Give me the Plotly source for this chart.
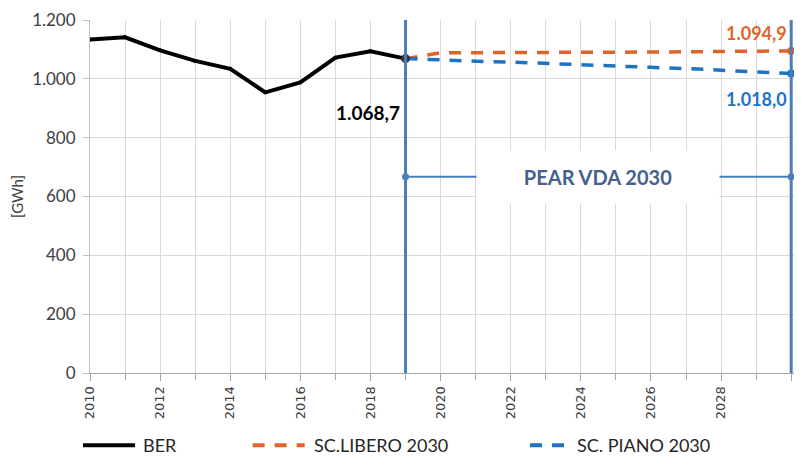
import plotly.graph_objects as go

# ---- data
ber_years = [2010, 2011, 2012, 2013, 2014, 2015, 2016, 2017, 2018, 2019]
ber_values = [1134, 1141, 1097, 1061, 1034, 954, 988, 1072, 1094, 1068.7]

sc_years = [2019, 2020, 2021, 2022, 2023, 2024, 2025, 2026, 2027, 2028, 2029, 2030]
libero_values = [1068.7, 1089, 1089, 1089, 1089, 1090, 1090, 1091, 1092, 1093, 1094, 1094.9]
piano_values = [1068.7, 1063, 1060, 1057, 1052, 1047, 1043, 1039, 1035, 1030, 1025, 1018.0]

series_names = ['BER', 'SC.LIBERO 2030', 'SC. PIANO 2030']

pear_start = 2019
pear_end = 2030
pear_level = 667

x_ticks = list(range(2010, 2031, 2))
y_ticks = [0, 200, 400, 600, 800, 1000, 1200]

black = 'black'
orange = '#e0642a'
blue = '#1f73c1'
frame_blue = '#4a7ebb'
label_blue = '#44618f'
grid = '#d9d9d9'
font_main = 'Lato'

fig = go.Figure()

# period bracket line (under the label box)
fig.add_trace(go.Scatter(
    x=[pear_start, pear_end], y=[pear_level, pear_level],
    mode='lines+markers', line=dict(color=frame_blue, width=2),
    marker=dict(size=7, color=frame_blue), showlegend=False, hoverinfo='skip',
    cliponaxis=False))

fig.add_trace(go.Scatter(
    x=sc_years, y=libero_values, name=series_names[1], mode='lines',
    line=dict(color=orange, width=3.5, dash='12px,10px'), showlegend=False))
fig.add_trace(go.Scatter(
    x=sc_years, y=piano_values, name=series_names[2], mode='lines',
    line=dict(color=blue, width=3.5, dash='12px,10px'), showlegend=False))

# end markers of the scenarios
fig.add_trace(go.Scatter(
    x=[sc_years[-1], sc_years[-1]], y=[libero_values[-1], piano_values[-1]],
    mode='markers', marker=dict(size=8, color=[orange, blue]),
    showlegend=False, hoverinfo='skip', cliponaxis=False))

fig.add_trace(go.Scatter(
    x=ber_years, y=ber_values, name=series_names[0], mode='lines+markers',
    line=dict(color=black, width=4), marker=dict(size=4, color=black),
    showlegend=False))
fig.add_trace(go.Scatter(
    x=[ber_years[-1]], y=[ber_values[-1]], mode='markers',
    marker=dict(size=9, color='#333333'), showlegend=False, hoverinfo='skip'))

# vertical frame lines
for xv in [pear_start, pear_end]:
    fig.add_shape(type='line', x0=xv, x1=xv, y0=0, y1=1200, xref='x', yref='y',
                  line=dict(color=frame_blue, width=3), layer='above')

fig.add_annotation(x=(pear_start + pear_end) / 2, y=pear_level, text='<b>PEAR VDA 2030</b>',
                   showarrow=False, bgcolor='white', width=240, height=50,
                   font=dict(family=font_main, size=20, color=label_blue))

fig.add_annotation(x=ber_years[-1], y=ber_values[-1], text='<b>1.068,7</b>', showarrow=False,
                   xanchor='right', yanchor='top', xshift=-4, yshift=-40,
                   font=dict(family=font_main, size=19, color=black))
fig.add_annotation(x=sc_years[-1], y=libero_values[-1], text='<b>1.094,9</b>', showarrow=False,
                   xanchor='right', yanchor='bottom', xshift=-2, yshift=5,
                   font=dict(family=font_main, size=18, color=orange))
fig.add_annotation(x=sc_years[-1], y=piano_values[-1], text='<b>1.018,0</b>', showarrow=False,
                   xanchor='right', yanchor='top', xshift=-2, yshift=-12,
                   font=dict(family=font_main, size=18, color=blue))

# legend drawn in paper coordinates below the axis
legend_y = -0.205
legend_items = [
    (series_names[0], black, 'solid', -0.01, 0.064, 0.072),
    (series_names[1], orange, '12px,10px', 0.231, 0.305, 0.315),
    (series_names[2], blue, '12px,10px', 0.625, 0.675, 0.689),
]
for name, col, dash, x0, x1, xt in legend_items:
    fig.add_shape(type='line', xref='paper', yref='paper', x0=x0, x1=x1,
                  y0=legend_y, y1=legend_y, line=dict(color=col, width=4, dash=dash))
    fig.add_annotation(xref='paper', yref='paper', x=xt, y=legend_y, text=name,
                       showarrow=False, xanchor='left', yanchor='middle',
                       font=dict(family=font_main, size=18, color='#262626'))

fig.update_layout(
    width=786, height=448,
    margin=dict(l=82, r=0, t=12, b=83),
    paper_bgcolor='white', plot_bgcolor='white',
    separators=',.',
    showlegend=False,
    font=dict(family=font_main, size=14, color='#404040'),
    xaxis=dict(range=[2010, 2030.08], tickvals=x_ticks, tickangle=-90,
               showgrid=True, gridcolor=grid,
               minor=dict(dtick=1, showgrid=True, gridcolor=grid, ticks='outside',
                          ticklen=6, tickcolor='#a6a6a6'),
               ticks='outside', ticklen=7, tickcolor='#a6a6a6',
               showline=True, linecolor='#a6a6a6', zeroline=False,
               tickfont=dict(family='DejaVu Sans', size=13, color='#404040')),
    yaxis=dict(range=[0, 1200], tickvals=y_ticks, tickformat=',d',
               showgrid=True, gridcolor=grid, zeroline=False,
               showline=True, linecolor='#bfbfbf', ticks='outside', ticklen=6,
               tickcolor='#bfbfbf', ticklabelstandoff=4,
               title=dict(text='[GWh]', standoff=12, font=dict(size=15)),
               tickfont=dict(size=17, color='#404040')),
)

fig.write_html("out.html")
